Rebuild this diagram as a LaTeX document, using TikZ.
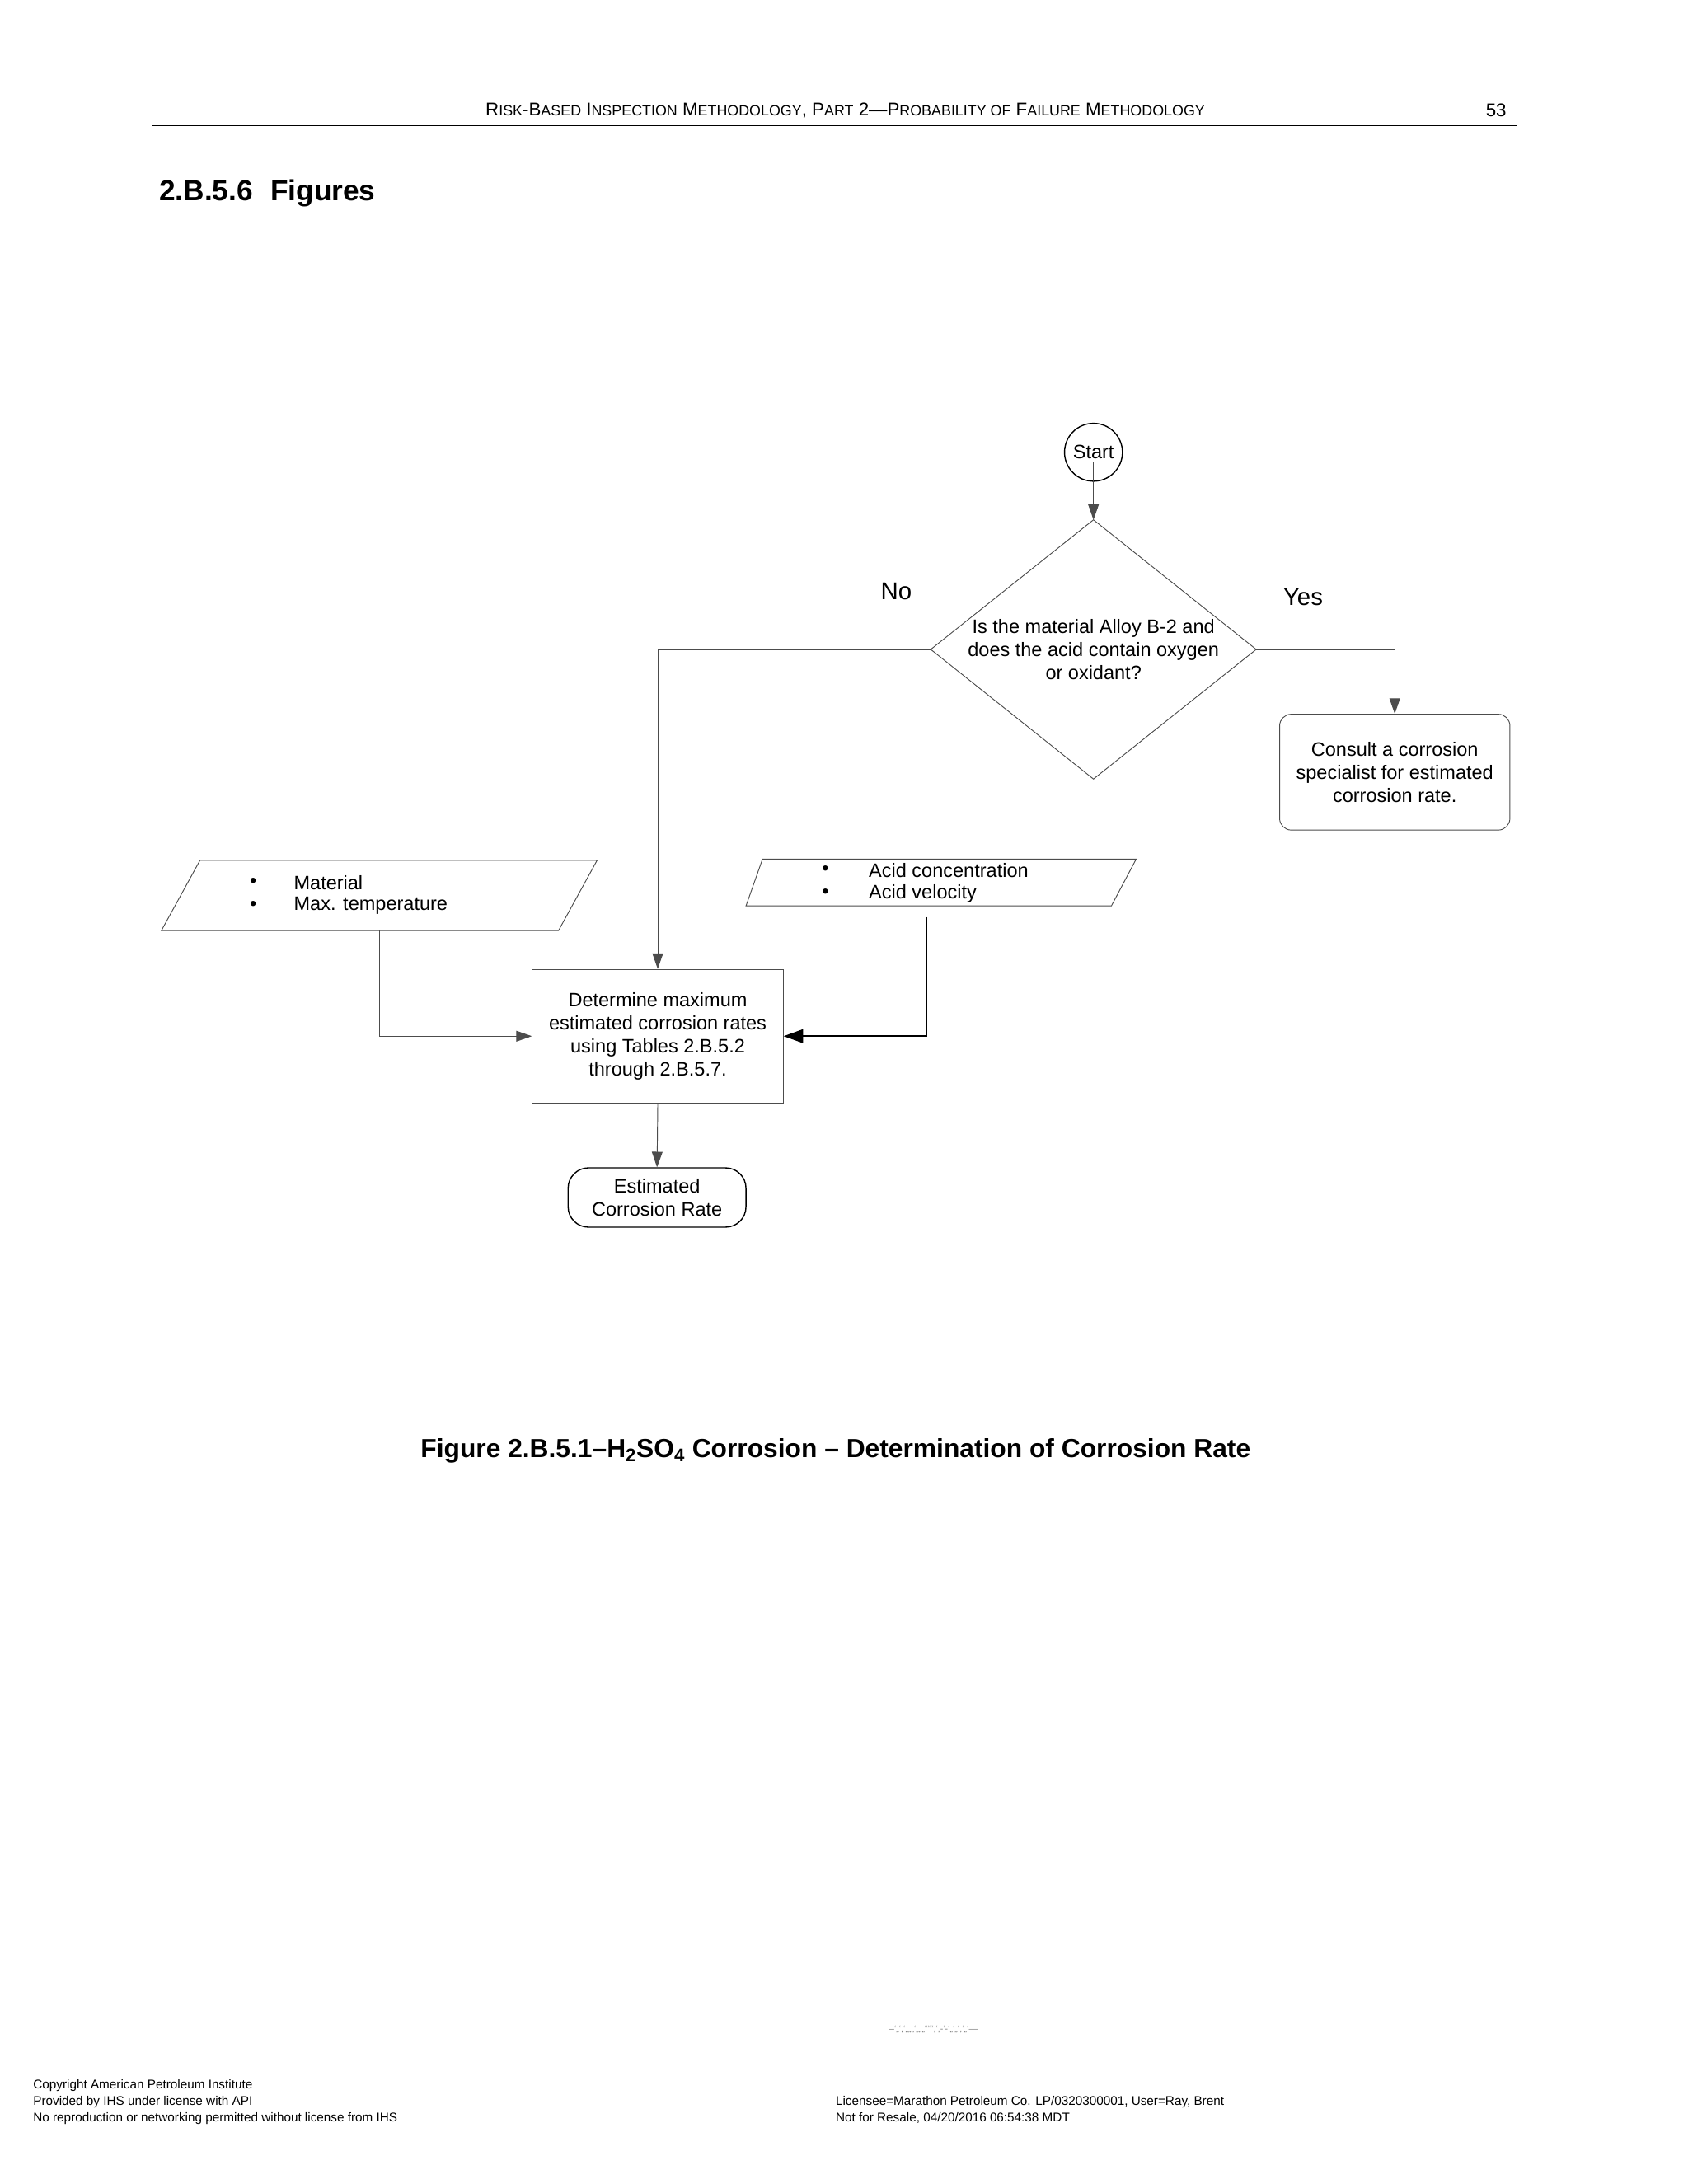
\documentclass[tikz,border=0pt]{standalone}
\usepackage{fontspec}
\setmainfont{Liberation Sans}
\usetikzlibrary{shapes.geometric,arrows.meta}
\begin{document}
\begin{tikzpicture}[x=0.05cm,y=-0.05cm,
  body/.style={font=\fontsize{20}{24}\selectfont,align=center},
  ln/.style={draw=black!70,line width=0.8pt},
  arr/.style={ln,-{Triangle[length=16pt,width=11pt]}},
  bul/.style={font=\fontsize{20}{24}\selectfont,anchor=west,inner sep=0}]
\useasboundingbox[fill=white] (0,0) rectangle (1224,1584);
% header
\node[font=\fontsize{19}{22}\selectfont] (hdr) at (613,80) {R\scalebox{0.8}{ISK}-B\scalebox{0.8}{ASED} I\scalebox{0.8}{NSPECTION} M\scalebox{0.8}{ETHODOLOGY}, P\scalebox{0.8}{ART} 2—P\scalebox{0.8}{ROBABILITY OF} F\scalebox{0.8}{AILURE} M\scalebox{0.8}{ETHODOLOGY}};
\node[font=\fontsize{19}{22}\selectfont] (pg) at (1085,80) {53};
\draw[line width=1pt] (110,91) -- (1100,91);
\node[font=\bfseries\fontsize{30}{34}\selectfont,anchor=west] (sec) at (113,140) {2.B.5.6\hspace{0.6em}Figures};
% flowchart
\draw[line width=1.2pt] (793,328) circle (21);
\node[body] (start) at (793,328) {Start};
\coordinate (dtop) at (793,377);
\coordinate (dl) at (675,471);
\coordinate (dr) at (911,471);
\draw[ln] (dtop) -- (dr) -- (793,565) -- (dl) -- cycle;
\node[body] (dec) at (793,471) {Is the material Alloy B-2 and\\does the acid contain oxygen\\or oxidant?};
\draw[arr] (start) -- (dtop);
\node[font=\fontsize{25}{28}\selectfont] (no) at (650,429) {No};
\node[font=\fontsize{25}{28}\selectfont] (yes) at (945,433) {Yes};
\node[body,draw=black!70,line width=0.8pt,rounded corners=12pt,minimum width=167*0.05cm,minimum height=84*0.05cm] (cons) at (1011.5,560) {Consult a corrosion\\specialist for estimated\\corrosion rate.};
\draw[arr] (dr) -| (cons.north);
\node[body,draw=black!70,line width=0.8pt,minimum width=182*0.05cm,minimum height=97*0.05cm] (proc) at (477,751.5) {Determine maximum\\estimated corrosion rates\\using Tables 2.B.5.2\\through 2.B.5.7.};
\draw[arr] (dl) -| (proc.north);
% input 1
\draw[ln] (145,624) -- (433,624) -- (405,675) -- (117,675) -- cycle;
\coordinate (in1) at (275,675);
\node[bul] (b1) at (181,640) {•};
\node[bul] (t1) at (213,640) {Material};
\node[bul] (b2) at (181,657) {•};
\node[bul] (t2) at (213,657) {Max. temperature};
\draw[arr] (in1) |- (proc.west);
% input 2
\draw[ln] (553,623) -- (824,623) -- (806,657) -- (541,657) -- cycle;
\coordinate (in2) at (672,665);
\node[bul] (b3) at (596,631) {•};
\node[bul] (t3) at (630,631) {Acid concentration};
\node[bul] (b4) at (596,648) {•};
\node[bul] (t4) at (630,648) {Acid velocity};
\draw[line width=1.6pt,-{Triangle[length=20pt,width=14pt]}] (in2) |- (proc.east);
% terminal
\node[body,draw,line width=1.2pt,rounded corners=21pt,minimum width=129*0.05cm,minimum height=43*0.05cm] (term) at (476.5,868.5) {Estimated\\Corrosion Rate};
\draw[arr] (proc.south) -- (term.north);
% caption
\node[font=\bfseries\fontsize{27}{30}\selectfont] (cap) at (606,1052) {Figure 2.B.5.1–H\textsubscript{2}SO\textsubscript{4} Corrosion – Determination of Corrosion Rate};
% footer
\node[font=\fontsize{9}{10}\selectfont,text=black!50] (junk) at (677,1472) {--`,,`,`,,,,,,`,,,,,,``````,`,-`-`,,`,,`,`,,`---};
\node[font=\fontsize{13}{17}\selectfont,align=left,anchor=north west,inner sep=0] (fl) at (24,1508) {Copyright American Petroleum Institute\\Provided by IHS under license with API\\No reproduction or networking permitted without license from IHS};
\node[font=\fontsize{13}{17}\selectfont,align=left,anchor=north west,inner sep=0] (fr) at (606,1520) {Licensee=Marathon Petroleum Co. LP/0320300001, User=Ray, Brent\\Not for Resale, 04/20/2016 06:54:38 MDT};
\end{tikzpicture}
\end{document}
